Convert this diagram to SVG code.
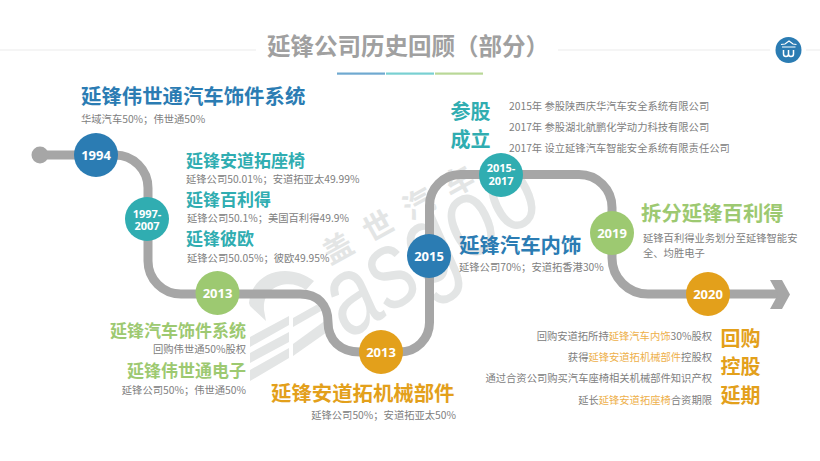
<svg xmlns="http://www.w3.org/2000/svg" width="820" height="461" viewBox="0 0 820 461">
<style>
text{font-family:"Noto Sans CJK SC","Noto Sans",sans-serif}
.y{font-family:"Open Sans","Noto Sans",sans-serif;font-weight:700;fill:#fff;text-anchor:middle}
.s{font-size:10.3px;fill:#808080}
.h{font-size:17px;font-weight:700}
.l{font-size:20.4px}
.m{font-size:20px}
.e{text-anchor:end}
.blue{fill:#2b7cb3}.teal{fill:#30adb1}.green{fill:#9dc971}.orange{fill:#e3a01b}
.o{fill:#eeb04a}
.wm{fill:#e3e5e5}
</style>
<rect width="820" height="461" fill="#fff"/>
<g id="header">
<path d="M0 50H256M558 50H770M806 50H820" stroke="#ececec" stroke-width="1.2" fill="none"/>
<text x="267" y="55" font-size="23.500" font-weight="700" fill="#a0a0a0">延锋公司历史回顾（部分）</text>
<rect x="337" y="72.500" width="48" height="2.200" fill="#6fa9d0"/>
<rect x="386" y="72.500" width="48" height="2.200" fill="#79d0d2"/>
<rect x="435" y="72.500" width="48" height="2.200" fill="#b9d897"/>
<circle cx="788.500" cy="50" r="13" fill="#2b7cb3"/>
<path d="M781 44.500L785 44L789 41L793 44L796.500 44.500M782 47H795.500" fill="none" stroke="#fff" stroke-width="1.200"/>
<path d="M783.500 50V54Q783.500 56.500 786 56.500Q788.500 56.500 788.500 54V50M788.500 54Q788.500 56.500 791 56.500Q793.500 56.500 793.500 54V50" fill="none" stroke="#fff" stroke-width="1.500"/>
</g>
<g id="watermark">
<path class="wm" d="M250 337L289 316V325L250 347ZM250 353L289 332V342L250 363ZM250 370L289 348V358L250 381Z"/>
<path class="wm" d="M293 318L318 304L321 311L293 327ZM293 344L326 320L330 330L293 356Z"/>
<path class="wm" d="M249 303C252 270 290 262 314 281L306 290C290 278 262 285 264 310L266 321L250 306Z"/>
<text transform="translate(349 340) rotate(-33) scale(.78 1)" font-size="112" font-style="italic" class="wm" style="font-family:'Liberation Sans',sans-serif">asgoo</text>
<text transform="translate(330 265) rotate(-29)" font-size="30" font-weight="700" class="wm" letter-spacing="16">盖世汽车</text>
</g>
<g id="connectors">
<path d="M40 155H115A33 33 0 0 1 148 188V261A33 33 0 0 0 181 294H300C318 294 328 305 328 322C328 340 340 352 360 352H400A29.500 29.500 0 0 0 429.500 322.500V205.500A31 31 0 0 1 460.500 174.500H579A33 33 0 0 1 612 207.500V258A36 36 0 0 0 648 294H778" fill="none" stroke="#a6a6a6" stroke-width="9"/>
<circle cx="40" cy="155" r="8.500" fill="#a6a6a6"/>
<path d="M770 280H782L790 294.500L782 309H770L778 294.500Z" fill="#a6a6a6"/>
</g>
<g id="n1994"><circle cx="96" cy="155" r="22" class="blue"/><text class="y" x="96" y="160" font-size="13">1994</text></g>
<g id="n1997"><circle cx="147" cy="219" r="22" class="teal"/><text class="y" font-size="11"><tspan x="147" y="217.500">1997-</tspan><tspan x="147" y="229.500">2007</tspan></text></g>
<g id="n2013a"><circle cx="217.500" cy="293" r="22" class="green"/><text class="y" x="217.500" y="298" font-size="13">2013</text></g>
<g id="n2013b"><circle cx="381" cy="352" r="22" class="orange"/><text class="y" x="381" y="357" font-size="13">2013</text></g>
<g id="n2015"><circle cx="429" cy="256" r="22" class="blue"/><text class="y" x="429" y="261" font-size="13">2015</text></g>
<g id="n2015b"><circle cx="501" cy="175" r="22" class="teal"/><text class="y" font-size="11"><tspan x="501" y="172">2015-</tspan><tspan x="501" y="184.500">2017</tspan></text></g>
<g id="n2019"><circle cx="612" cy="233" r="22" class="green"/><text class="y" x="612" y="238" font-size="13">2019</text></g>
<g id="n2020"><circle cx="708" cy="294" r="22" class="orange"/><text class="y" x="708" y="299" font-size="13">2020</text></g>
<g id="labels">
<text x="81" y="103.500" class="h l blue">延锋伟世通汽车饰件系统</text>
<text x="81" y="123" class="s">华域汽车50%；伟世通50%</text>
<text x="186" y="167" class="h teal">延锋安道拓座椅</text>
<text x="186" y="183" class="s">延锋公司50.01%；安道拓亚太49.99%</text>
<text x="186" y="205.500" class="h teal">延锋百利得</text>
<text x="187" y="222" class="s">延锋公司50.1%；美国百利得49.9%</text>
<text x="186" y="244.500" class="h teal">延锋彼欧</text>
<text x="187" y="261.500" class="s">延锋公司50.05%；彼欧49.95%</text>
<text x="246" y="337" class="h green e">延锋汽车饰件系统</text>
<text x="246" y="352.500" class="s e">回购伟世通50%股权</text>
<text x="246" y="376.500" class="h green e">延锋伟世通电子</text>
<text x="246" y="394" class="s e">延锋公司50%；伟世通50%</text>
<text x="271" y="401" class="h l orange">延锋安道拓机械部件</text>
<text x="456" y="419" class="s e">延锋公司50%；安道拓亚太50%</text>
<text x="459" y="252.500" class="h l blue">延锋汽车内饰</text>
<text x="459" y="270.500" class="s">延锋公司70%；安道拓香港30%</text>
<text x="450.500" y="119" class="h m teal">参股</text>
<text x="450.500" y="147" class="h m teal">成立</text>
<text x="509" y="109.500" class="s">2015年 参股陕西庆华汽车安全系统有限公司</text>
<text x="509" y="130.500" class="s">2017年 参股湖北航鹏化学动力科技有限公司</text>
<text x="509" y="151.500" class="s">2017年 设立延锋汽车智能安全系统有限责任公司</text>
<text x="641" y="220.500" class="h l green">拆分延锋百利得</text>
<text x="643" y="242" class="s">延锋百利得业务划分至延锋智能安</text>
<text x="643" y="256.500" class="s">全、均胜电子</text>
<text x="712" y="340" class="s e">回购安道拓所持<tspan class="o">延锋汽车内饰</tspan>30%股权</text>
<text x="712" y="361" class="s e">获得<tspan class="o">延锋安道拓机械部件</tspan>控股权</text>
<text x="712" y="382" class="s e">通过合资公司购买汽车座椅相关机械部件知识产权</text>
<text x="712" y="404" class="s e">延长<tspan class="o">延锋安道拓座椅</tspan>合资期限</text>
<text x="720.500" y="345.500" class="h m orange">回购</text>
<text x="720.500" y="374" class="h m orange">控股</text>
<text x="720.500" y="403" class="h m orange">延期</text>
</g>
</svg>
